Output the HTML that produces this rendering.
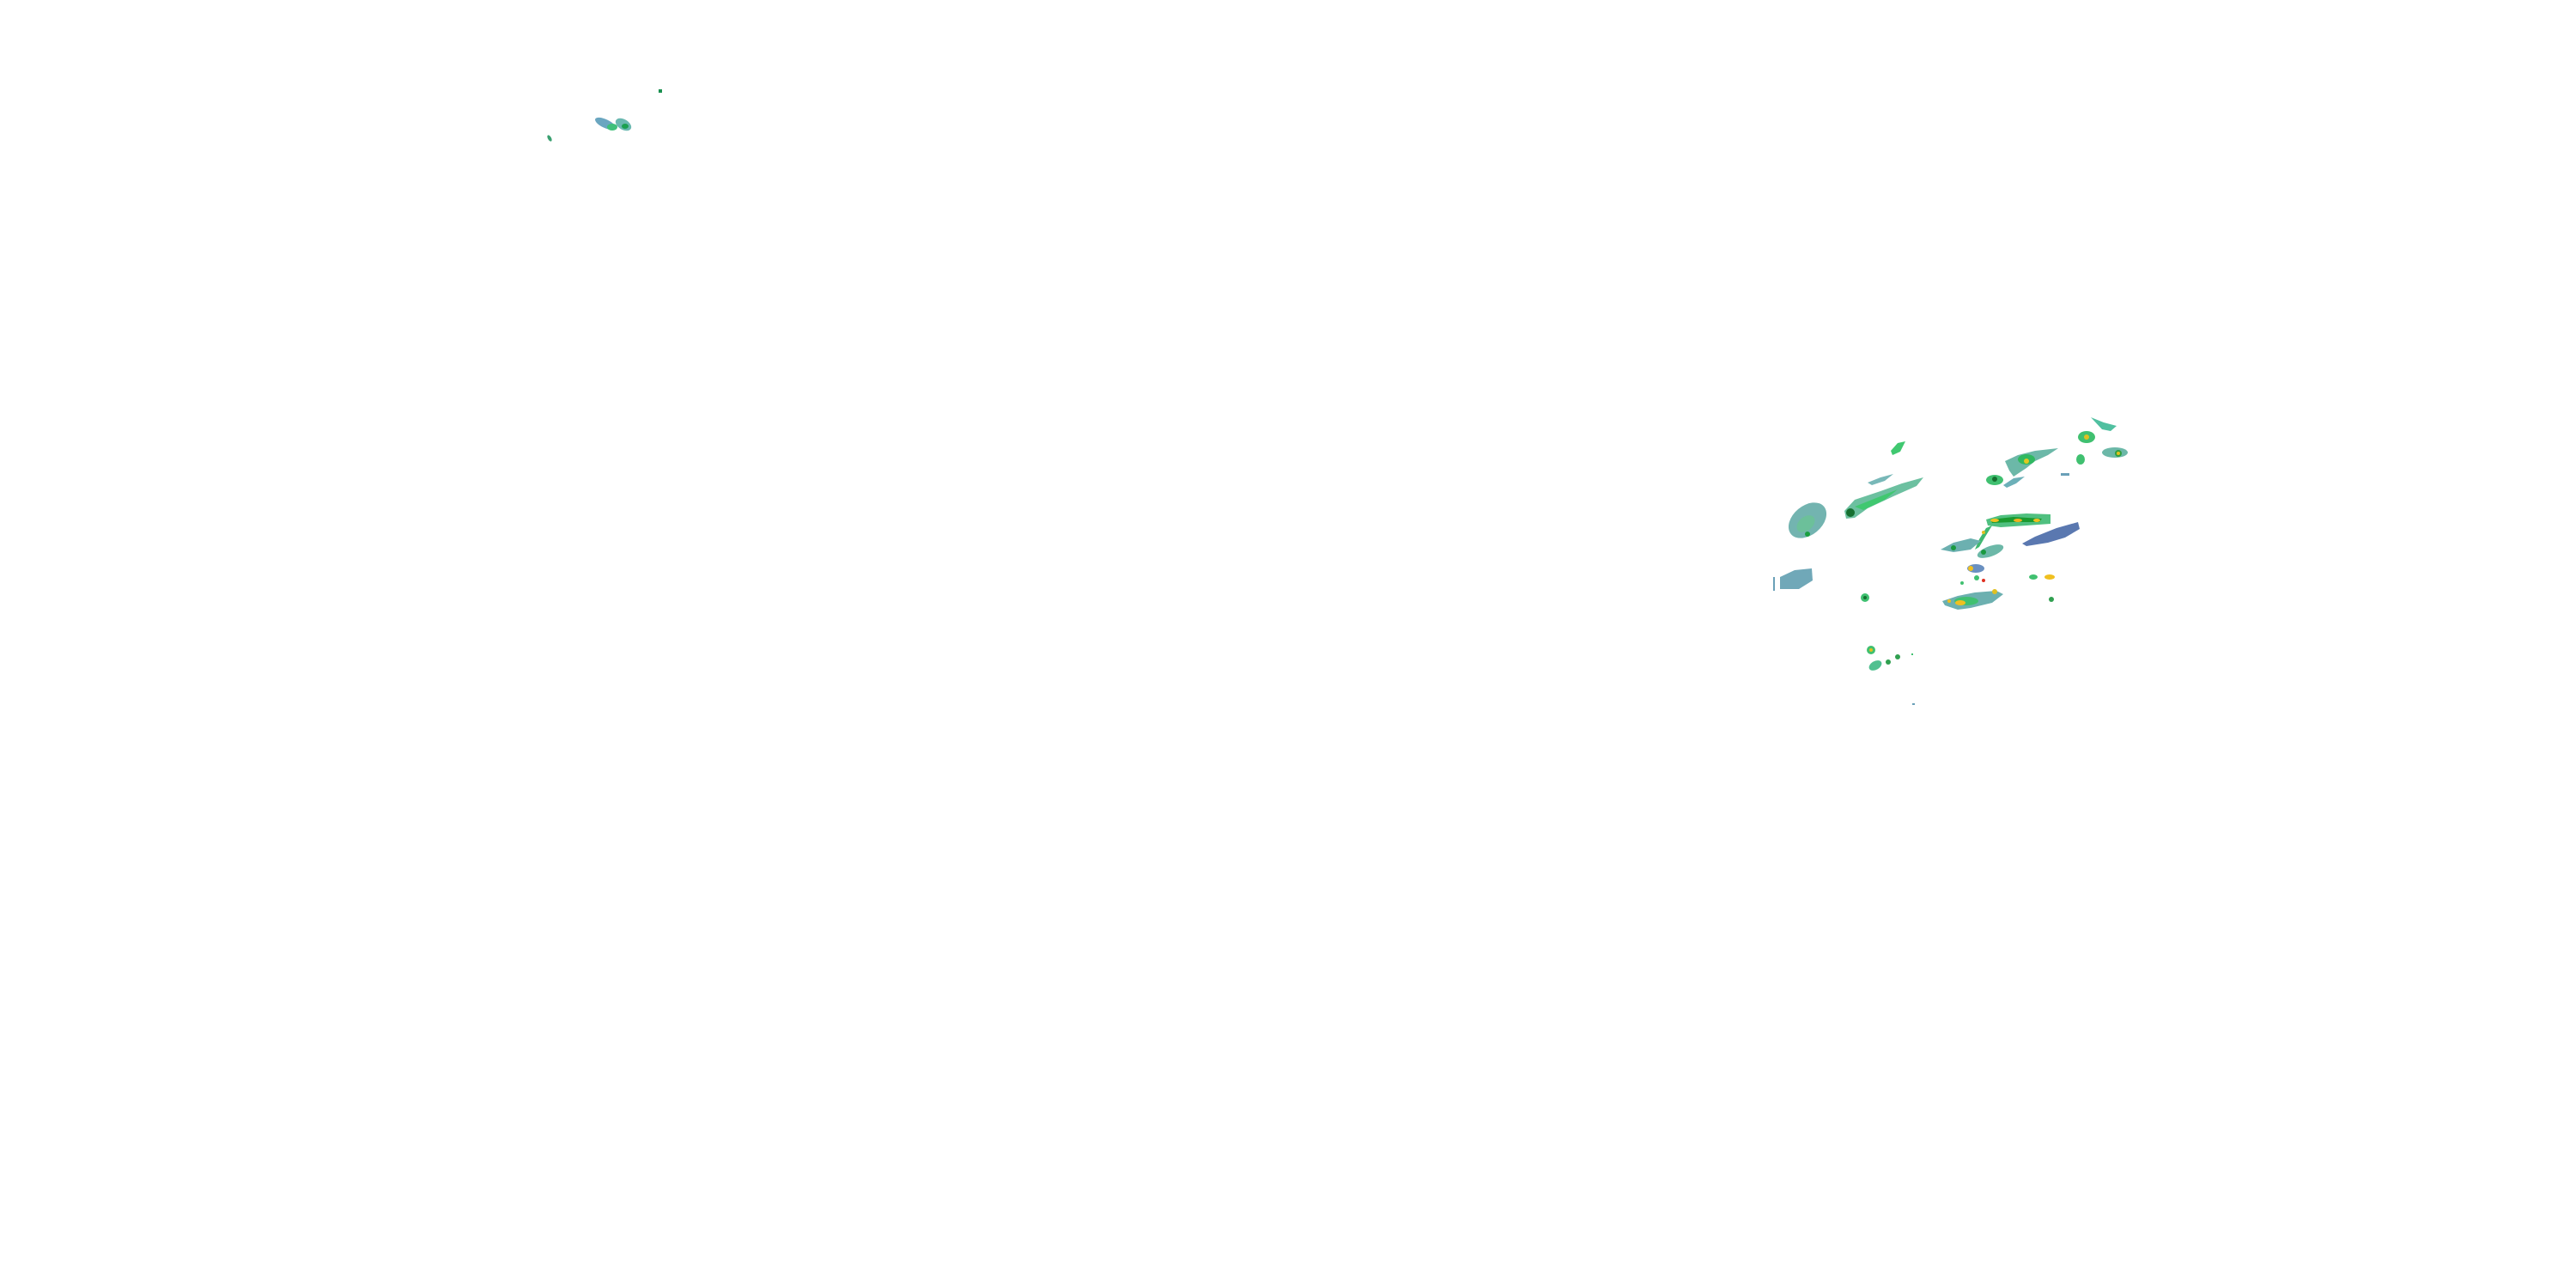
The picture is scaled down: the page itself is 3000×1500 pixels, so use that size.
<!DOCTYPE html>
<html><head><meta charset="utf-8"><style>
html,body{margin:0;padding:0;background:#fff;}
svg{display:block;}
</style></head><body>
<svg width="3000" height="1500" viewBox="0 0 3000 1500" xmlns="http://www.w3.org/2000/svg">
<rect width="3000" height="1500" fill="#fff"/>
<!-- top-left cluster -->
<g>
<ellipse cx="705" cy="144" rx="13" ry="5" transform="rotate(25 705 144)" fill="#6aa6c0"/>
<ellipse cx="713" cy="148" rx="6" ry="4" fill="#3fc07a"/>
<ellipse cx="726" cy="145" rx="10" ry="6" transform="rotate(30 726 145)" fill="#6ab8b0"/>
<ellipse cx="728" cy="147" rx="4" ry="3" fill="#1aa050"/>
<ellipse cx="640" cy="161" rx="2" ry="4" transform="rotate(-30 640 161)" fill="#3aa070"/>
<rect x="767" y="104" width="4" height="4" fill="#1a9050"/>
</g>
<!-- left large blob -->
<ellipse cx="2105" cy="606" rx="25" ry="17" transform="rotate(-40 2105 606)" fill="#73b4b0"/>
<ellipse cx="2103" cy="610" rx="12" ry="8" transform="rotate(-40 2103 610)" fill="#6cc09a"/>
<circle cx="2105" cy="622" r="3" fill="#1aa040"/>
<!-- streak -->
<polygon points="2148,595 2160,582 2190,572 2215,563 2240,556 2232,566 2205,578 2175,592 2160,603 2150,604" fill="#6cc0a0"/>
<polygon points="2160,590 2190,578 2210,570 2195,582 2170,594" fill="#40c870"/>
<circle cx="2155" cy="597" r="5" fill="#157030"/>
<polygon points="2175,562 2190,556 2205,552 2195,560 2180,565" fill="#78b8b8"/>
<!-- small top green -->
<polygon points="2202,525 2210,516 2219,514 2213,526 2204,530" fill="#40c870"/>
<!-- left small blob -->
<polygon points="2073,672 2090,664 2110,662 2111,676 2095,686 2073,686" fill="#70a8b8"/>
<rect x="2065" y="672" width="2" height="16" fill="#6aa0b8"/>
<circle cx="2172" cy="696" r="5" fill="#3fc070"/>
<circle cx="2172" cy="696" r="2" fill="#157030"/>
<!-- NE group -->
<polygon points="2335,537 2350,530 2370,525 2397,522 2385,530 2370,537 2360,545 2345,555 2340,548" fill="#6cb8a8"/>
<ellipse cx="2360" cy="535" rx="10" ry="6" fill="#30b860"/>
<circle cx="2360" cy="537" r="3" fill="#e0c820"/>
<ellipse cx="2323" cy="559" rx="10" ry="6" fill="#40c070"/>
<circle cx="2323" cy="558" r="3" fill="#157030"/>
<polygon points="2333,565 2345,557 2358,555 2348,563 2337,568" fill="#6cb0b8"/>
<ellipse cx="2430" cy="509" rx="10" ry="7" fill="#40c070"/>
<circle cx="2430" cy="509" r="3" fill="#e0c020"/>
<polygon points="2435,486 2450,492 2465,496 2458,502 2448,500" fill="#50c0a0"/>
<ellipse cx="2463" cy="527" rx="15" ry="6" fill="#6cb8a8"/>
<circle cx="2467" cy="528" r="4" fill="#30a040"/>
<circle cx="2467" cy="528" r="2" fill="#e0c020"/>
<ellipse cx="2423" cy="535" rx="5" ry="6" fill="#40c070"/>
<rect x="2400" y="551" width="10" height="3" fill="#6aa0b8"/>
<!-- line band -->
<polygon points="2313,605 2330,600 2360,598 2388,599 2388,610 2360,612 2330,614 2315,612" fill="#50c080"/>
<polygon points="2318,605 2345,602 2378,604 2375,608 2345,608 2320,609" fill="#1a9a30"/>
<ellipse cx="2323" cy="606" rx="5" ry="2" fill="#f0c020"/>
<ellipse cx="2350" cy="606" rx="5" ry="2" fill="#f0b020"/>
<ellipse cx="2372" cy="606" rx="4" ry="2" fill="#f0c020"/>
<polygon points="2300,640 2305,628 2313,615 2320,612 2312,625 2305,637" fill="#40b870"/>
<circle cx="2310" cy="620" r="2" fill="#e0c020"/>
<!-- blue streak -->
<polygon points="2355,633 2370,625 2395,615 2420,608 2422,616 2405,626 2385,632 2360,636" fill="#5a78b0"/>
<!-- smaller blobs -->
<polygon points="2260,640 2275,632 2295,627 2307,630 2295,640 2275,643" fill="#6cb0b0"/>
<circle cx="2275" cy="638" r="3" fill="#1a9a40"/>
<ellipse cx="2318" cy="642" rx="16" ry="6" transform="rotate(-20 2318 642)" fill="#6cb8a8"/>
<circle cx="2310" cy="643" r="3" fill="#1a9a40"/>
<ellipse cx="2301" cy="662" rx="10" ry="5" fill="#6a90c0"/>
<circle cx="2295" cy="662" r="3" fill="#f0c020"/>
<circle cx="2302" cy="673" r="3" fill="#40c070"/>
<circle cx="2310" cy="676" r="2" fill="#e03020"/>
<circle cx="2285" cy="679" r="2" fill="#40c070"/>
<!-- bottom cluster -->
<polygon points="2262,700 2280,694 2300,690 2325,688 2333,692 2320,702 2295,708 2280,710 2265,705" fill="#6cb0b0"/>
<ellipse cx="2290" cy="700" rx="14" ry="5" fill="#40c070"/>
<ellipse cx="2283" cy="702" rx="6" ry="3" fill="#f0c020"/>
<circle cx="2270" cy="700" r="2" fill="#f0c020"/>
<circle cx="2323" cy="689" r="3" fill="#e0c020"/>
<ellipse cx="2368" cy="672" rx="5" ry="3" fill="#40c070"/>
<ellipse cx="2387" cy="672" rx="6" ry="3" fill="#f0c020"/>
<circle cx="2389" cy="698" r="3" fill="#30a050"/>
<!-- lower cluster -->
<circle cx="2179" cy="757" r="5" fill="#40c070"/>
<circle cx="2179" cy="757" r="2" fill="#e0c020"/>
<ellipse cx="2184" cy="775" rx="8" ry="5" transform="rotate(-30 2184 775)" fill="#50c090"/>
<circle cx="2199" cy="771" r="3" fill="#30a050"/>
<circle cx="2210" cy="765" r="3" fill="#30a050"/>
<rect x="2226" y="761" width="2" height="2" fill="#40c070"/>
<rect x="2227" y="819" width="3" height="2" fill="#6aa0b8"/>
</svg>
</body></html>
